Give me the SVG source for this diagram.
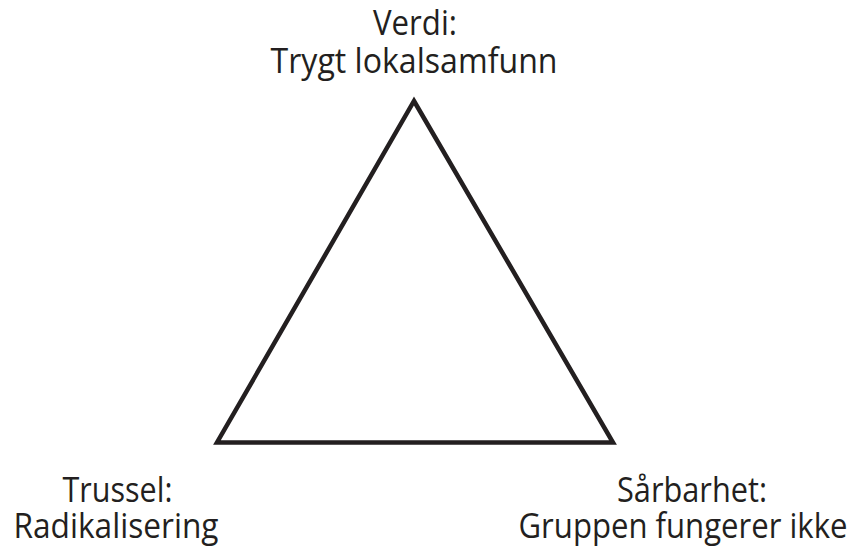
<svg xmlns="http://www.w3.org/2000/svg" width="865" height="552" viewBox="0 0 865 552">
<style>
.lbl{font-family:"Open Sans","Noto Sans","Liberation Sans",sans-serif;font-size:35px;fill:#231f20;text-anchor:middle}
.edge{fill:none;stroke:#231f20;stroke-width:4.5;stroke-linejoin:miter}
</style>
<rect width="865" height="552" fill="#ffffff"/>
<g id="connectors">
<polygon class="edge" points="414,101 613,442.5 217,442.5"/>
</g>
<g id="node-verdi">
<text class="lbl" x="415" y="35" textLength="84" lengthAdjust="spacingAndGlyphs">Verdi:</text>
<text class="lbl" x="414" y="73" textLength="287" lengthAdjust="spacingAndGlyphs">Trygt lokalsamfunn</text>
</g>
<g id="node-trussel">
<text class="lbl" x="117.5" y="502" textLength="110" lengthAdjust="spacingAndGlyphs">Trussel:</text>
<text class="lbl" x="116" y="538" textLength="205" lengthAdjust="spacingAndGlyphs">Radikalisering</text>
</g>
<g id="node-sarbarhet">
<text class="lbl" x="692" y="502" textLength="150" lengthAdjust="spacingAndGlyphs">Sårbarhet:</text>
<text class="lbl" x="683" y="538" textLength="329" lengthAdjust="spacingAndGlyphs">Gruppen fungerer ikke</text>
</g>
</svg>
